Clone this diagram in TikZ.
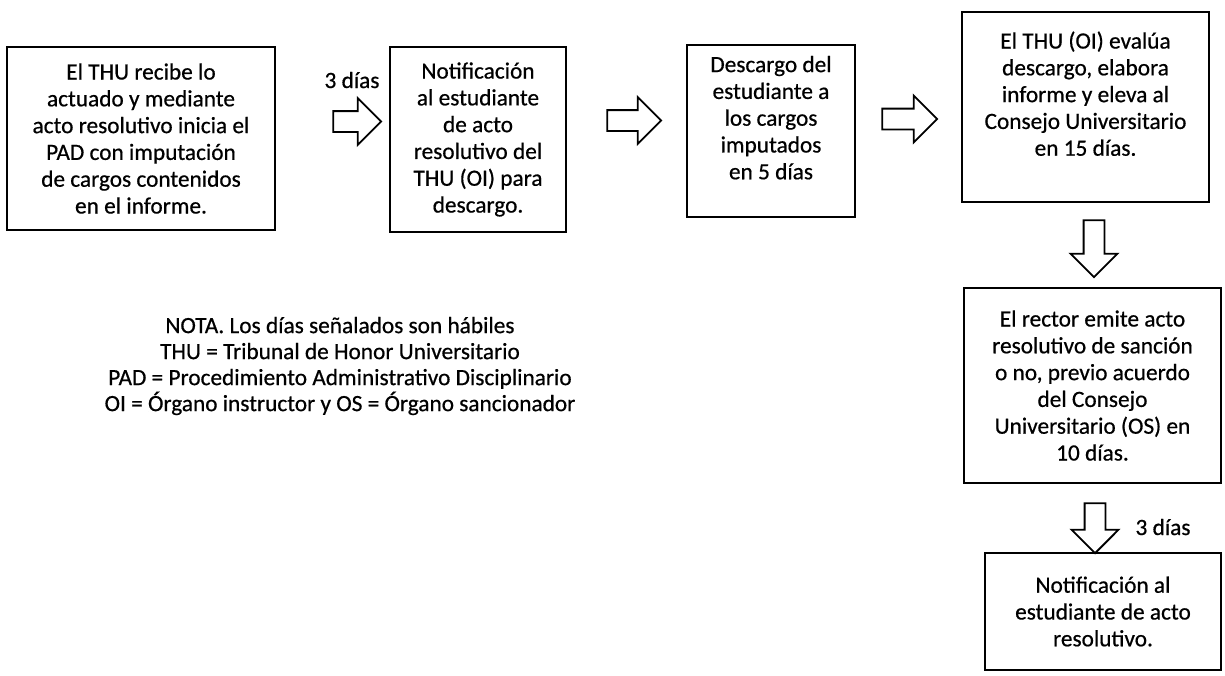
\documentclass[tikz,border=0pt]{standalone}
\usepackage{fontspec}
\setmainfont{Carlito}[FakeBold=0.6]
\usetikzlibrary{shapes.arrows}
\tikzset{
  box/.style={draw, line width=2.2pt, align=center, inner sep=0pt, font=\fontsize{23.3}{26.8}\selectfont},
  lbl/.style={align=center, inner sep=0pt, font=\fontsize{23.3}{26}\selectfont},
  barrow/.style={draw, line width=1.8pt, single arrow, single arrow head extend=13pt,
    single arrow tip angle=90, inner sep=0pt, minimum width=45pt},
}
\newcommand{\shaft}{\rule{0pt}{19pt}}
\begin{document}
\begin{tikzpicture}[x=1pt,y=-1pt]
\useasboundingbox (0,0) rectangle (1225,675);
\node[box, minimum width=268pt, minimum height=183pt] (b1) at (141,138.5)
  {El THU recibe lo\\actuado y mediante\\acto resolutivo inicia el\\PAD con imputación\\de cargos contenidos\\en el informe.};
\node[box, minimum width=176pt, minimum height=185pt] (b2) at (478,139.5)
  {Notificación\\al estudiante\\de acto\\resolutivo del\\THU (OI) para\\descargo.};
\node[box, minimum width=168pt, minimum height=172pt] (b3) at (771,131)
  {Descargo del\\estudiante a\\los cargos\\imputados\\en 5 días\\\mbox{}};
\node[box, minimum width=247pt, minimum height=190pt] (b4) at (1085.5,107)
  {El THU (OI) evalúa\\descargo, elabora\\informe y eleva al\\Consejo Universitario\\en 15 días.\\\mbox{}};
\node[box, minimum width=257pt, minimum height=195pt] (b5) at (1092.5,385.5)
  {El rector emite acto\\resolutivo de sanción\\o no, previo acuerdo\\del Consejo\\Universitario (OS) en\\10 días.};
\node[box, minimum width=236pt, minimum height=117pt] (b6) at (1103,611.5)
  {Notificación al\\estudiante de acto\\resolutivo.};

\node[barrow, minimum height=48pt] (a1) at (352,121.5) {\shaft};
\node[barrow, minimum height=54pt] (a2) at (629,120.5) {\shaft};
\node[barrow, minimum height=55pt] (a3) at (904.5,119) {\shaft};
\node[barrow, minimum height=57pt, rotate=-90] (a4) at (1094,243.5) {\shaft};
\node[barrow, minimum height=50pt, rotate=-90] (a5) at (1095,523) {\shaft};

\node[lbl] (t1) at (352,80) {3 días};
\node[lbl] (t2) at (1163,527) {3 días};

\node[lbl] (note) at (340,366)
  {NOTA. Los días señalados son hábiles\\THU = Tribunal de Honor Universitario\\PAD = Procedimiento Administrativo Disciplinario\\OI = Órgano instructor y OS = Órgano sancionador};
\end{tikzpicture}
\end{document}
